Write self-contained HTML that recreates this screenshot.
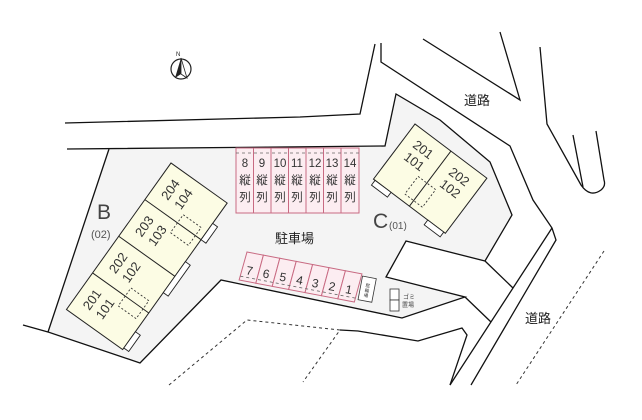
<!DOCTYPE html>
<html><head><meta charset="utf-8"><style>
html,body{margin:0;padding:0;background:#fff;}
svg{display:block;font-family:"Liberation Sans","Noto Sans CJK JP",sans-serif;}
</style></head><body>
<svg width="642" height="420" viewBox="0 0 642 420" xmlns="http://www.w3.org/2000/svg">
<polygon points="109,149 48,332 140,363 221,280 402,318 465,297 386,277 406,241 485,261 512,215 490,162 440,120 396,94 385,146 67,149" fill="#f4f4f4" stroke="none"/>
<g fill="none" stroke="#111" stroke-width="1.3">
<polyline points="67,149 385,146 396,94 440,120 490,162 512,215 485,261 406,241 386,277 465,297 402,318 221,280 140,363 48,332 109,149"/>
<polyline points="23,325 48,332"/>
<polyline points="65,123 300,117 360,114 375,44"/>
<polyline points="381,43 381,62 510,146 533,200 552,228 556,240 471,385"/>
<polyline points="552,228 450,385"/>
<polyline points="485,261 513,288"/>
<polyline points="465,297 491,322"/>
<polyline points="340,330 358,331 418,341 462,328 467,335 450,385"/>
<polyline points="423,39 520,100 500,32"/>
<path d="M540,47 L547,124 L581,185 Q590,198 601,190 Q606,186 604,180 L596,131"/>
<polyline points="573,135 583,187"/>
</g>
<g fill="none" stroke="#333" stroke-width="1" stroke-dasharray="3,3">
<polyline points="169,385 247,320 340,330 303,382"/>
<line x1="604" y1="251" x2="516" y2="385"/>
</g>
<circle cx="181" cy="69" r="10" fill="#fff" stroke="#222" stroke-width="1.2"/>
<polygon points="181,58 175,78 181,74" fill="#222"/>
<polygon points="181,58 187,78 181,74" fill="#fff" stroke="#222" stroke-width="0.8"/>
<text x="176" y="56" font-size="6" fill="#222">N</text>
<g stroke="#c86a82" stroke-width="1" fill="#fcedf1">
<rect x="236" y="148" width="17.5" height="65"/><rect x="253.5" y="148" width="17.5" height="65"/>
<rect x="271" y="148" width="17.5" height="65"/><rect x="288.5" y="148" width="17.5" height="65"/>
<rect x="306" y="148" width="17.5" height="65"/><rect x="323.5" y="148" width="17.5" height="65"/>
<rect x="341" y="148" width="18" height="65"/>
</g>
<line x1="236" y1="153" x2="359" y2="153" stroke="#666" stroke-width="0.8" stroke-dasharray="3,3"/>
<g font-size="11.5" fill="#333" text-anchor="middle">
<text x="245" y="167">8</text><text x="262" y="167">9</text><text x="280" y="167">10</text><text x="297" y="167">11</text><text x="315" y="167">12</text><text x="332" y="167">13</text><text x="350" y="167">14</text>
<text x="245" y="184">縦</text><text x="262" y="184">縦</text><text x="280" y="184">縦</text><text x="297" y="184">縦</text><text x="315" y="184">縦</text><text x="332" y="184">縦</text><text x="350" y="184">縦</text>
<text x="245" y="201">列</text><text x="262" y="201">列</text><text x="280" y="201">列</text><text x="297" y="201">列</text><text x="315" y="201">列</text><text x="332" y="201">列</text><text x="350" y="201">列</text>
</g>
<g transform="translate(247,252) rotate(10.8)">
<g stroke="#c86a82" stroke-width="1" fill="#fcedf1">
<polygon points="0,0 16.7,0 14.5,29 -2.5,29"/><polygon points="16.7,0 33.4,0 31.2,29 14.5,29"/>
<polygon points="33.4,0 50.1,0 47.9,29 31.2,29"/><polygon points="50.1,0 66.8,0 64.6,29 47.9,29"/>
<polygon points="66.8,0 83.5,0 81.3,29 64.6,29"/><polygon points="83.5,0 100.2,0 98,29 81.3,29"/>
<polygon points="100.2,0 117,0 114.8,29 98,29"/>
</g>
<line x1="-2" y1="25" x2="115" y2="25" stroke="#666" stroke-width="0.8" stroke-dasharray="3,3"/>
<g font-size="12" fill="#333" text-anchor="middle">
<text x="6" y="22">7</text><text x="23" y="22">6</text><text x="40" y="22">5</text><text x="57" y="22">4</text><text x="73" y="22">3</text><text x="90" y="22">2</text><text x="107" y="22">1</text>
</g>
<rect x="118" y="2" width="14" height="24" fill="#fff" stroke="#333" stroke-width="0.8"/>
<text x="125" y="12" font-size="4.5" fill="#333" text-anchor="middle">駐</text>
<text x="125" y="17" font-size="4.5" fill="#333" text-anchor="middle">輪</text>
<text x="125" y="22" font-size="4.5" fill="#333" text-anchor="middle">場</text>
</g>
<rect x="390" y="289" width="9" height="11" fill="#fff" stroke="#333" stroke-width="0.8"/>
<rect x="390" y="300" width="9" height="11" fill="#fff" stroke="#333" stroke-width="0.8"/>
<text x="403" y="299" font-size="6" fill="#444">ゴミ</text>
<text x="402" y="307" font-size="6" fill="#444">置場</text>
<g transform="translate(171,163) rotate(35.5)">
<rect x="0" y="0" width="69" height="180" fill="#fcfce4" stroke="#222" stroke-width="1"/>
<line x1="0" y1="45" x2="69" y2="45" stroke="#222"/><line x1="0" y1="90" x2="69" y2="90" stroke="#222"/><line x1="0" y1="135" x2="69" y2="135" stroke="#222"/>
<g fill="none" stroke="#333" stroke-dasharray="2,2" stroke-width="0.9">
<rect x="40" y="35" width="22" height="22"/><rect x="40" y="125" width="22" height="22"/>
</g>
<g fill="#fff" stroke="#222" stroke-width="0.9">
<rect x="69" y="25" width="6" height="20"/><rect x="69" y="72" width="6" height="38"/><rect x="69" y="158" width="6" height="20"/>
</g>
<g font-size="13" fill="#333" text-anchor="middle">
<text transform="translate(15,22) rotate(-90)" dy="4.5">204</text><text transform="translate(31,22) rotate(-90)" dy="4.5">104</text>
<text transform="translate(15,67) rotate(-90)" dy="4.5">203</text><text transform="translate(31,67) rotate(-90)" dy="4.5">103</text>
<text transform="translate(15,112) rotate(-90)" dy="4.5">202</text><text transform="translate(31,112) rotate(-90)" dy="4.5">102</text>
<text transform="translate(15,157) rotate(-90)" dy="4.5">201</text><text transform="translate(31,157) rotate(-90)" dy="4.5">101</text>
</g>
</g>
<g transform="translate(415,124) rotate(37)">
<rect x="0" y="0" width="90" height="69" fill="#fcfce4" stroke="#222" stroke-width="1"/>
<line x1="45" y1="0" x2="45" y2="69" stroke="#222"/>
<g fill="none" stroke="#333" stroke-dasharray="2,2" stroke-width="0.9">
<rect x="34" y="40" width="22" height="22"/>
</g>
<g fill="#fff" stroke="#222" stroke-width="0.9">
<rect x="2" y="69" width="20" height="6"/><rect x="68" y="69" width="20" height="6"/>
</g>
<g font-size="13" fill="#333" text-anchor="middle">
<text x="22" y="20">201</text><text x="22" y="35">101</text>
<text x="67" y="20">202</text><text x="67" y="35">102</text>
</g>
</g>
<text x="97" y="219" font-size="21" fill="#444">B</text>
<text x="91" y="238" font-size="11" fill="#555">(02)</text>
<text x="373" y="228" font-size="21" fill="#444">C</text>
<text x="389" y="229" font-size="10" fill="#555">(01)</text>
<text x="275" y="243" font-size="13" fill="#222">駐車場</text>
<text x="464" y="105" font-size="13" fill="#222">道路</text>
<text x="525" y="323" font-size="13" fill="#222">道路</text>
</svg>
</body></html>
